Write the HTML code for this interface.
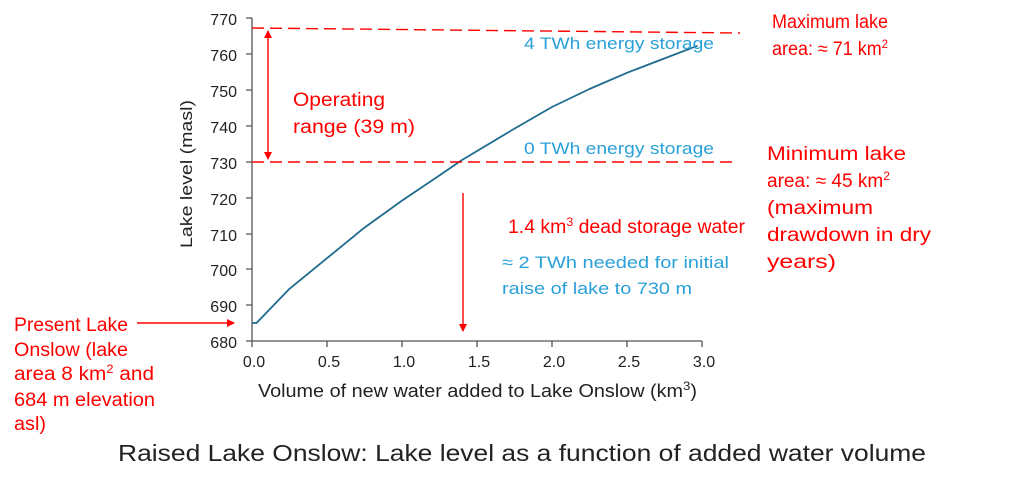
<!DOCTYPE html><html><head><style>body{margin:0;background:#fff}</style></head><body>
<svg width="1024" height="488" viewBox="0 0 1024 488" xmlns="http://www.w3.org/2000/svg" font-family="Liberation Sans, sans-serif">
<defs><marker id="a" markerWidth="8" markerHeight="8" refX="7" refY="4" orient="auto-start-reverse" markerUnits="userSpaceOnUse"><path d="M0,0 L8,4 L0,8 z" fill="#f00"/></marker></defs>
<g stroke="#555" stroke-width="1.3" fill="none">
<path d="M252 18 V341 H702"/>
<path d="M246 18H252M246 54H252M246 90H252M246 126H252M246 162H252M246 198H252M246 234H252M246 269H252M246 305H252M246 341H252"/>
<path d="M252 341V347M327 341V347M402 341V347M477 341V347M552 341V347M627 341V347M702 341V347"/>
</g>
<g font-size="16" fill="#222" text-anchor="end">
<text x="237" y="25">770</text><text x="237" y="61">760</text><text x="237" y="97">750</text><text x="237" y="133">740</text><text x="237" y="169">730</text><text x="237" y="205">720</text><text x="237" y="241">710</text><text x="237" y="276">700</text><text x="237" y="312">690</text><text x="237" y="348">680</text>
</g>
<g font-size="16" fill="#222" text-anchor="middle">
<text x="254" y="367">0.0</text><text x="329" y="367">0.5</text><text x="404" y="367">1.0</text><text x="479" y="367">1.5</text><text x="554" y="367">2.0</text><text x="629" y="367">2.5</text><text x="704" y="367">3.0</text>
</g>
<g fill="#222">
<text x="258" y="397" font-size="18" textLength="439" lengthAdjust="spacingAndGlyphs">Volume of new water added to Lake Onslow (km<tspan dy="-7" font-size="12">3</tspan><tspan dy="7">)</tspan></text>
<text x="-248" y="192" font-size="17" transform="rotate(-90)" textLength="148" lengthAdjust="spacingAndGlyphs">Lake level (masl)</text>
<text x="118" y="461" font-size="23" textLength="808" lengthAdjust="spacingAndGlyphs">Raised Lake Onslow: Lake level as a function of added water volume</text>
</g>
<polyline points="252,323 256.5,323 289.5,288.8 327,258.2 364.5,227.6 402,200.6 439.5,175.4 462,160 514.5,128.6 552,107 589.5,89 627,72.8 664.5,58.4 697.5,45.8" stroke="#1f6b8e" stroke-width="1.8" fill="none" stroke-linejoin="round"/>
<g stroke="#f00" stroke-width="1.4" fill="none">
<path d="M252 28 L740 33" stroke-dasharray="12 6"/>
<path d="M252 162 L735 162" stroke-dasharray="12 6"/>
<path d="M268 31 V159" marker-start="url(#a)" marker-end="url(#a)"/>
<path d="M463 193 V331" marker-end="url(#a)"/>
<path d="M137 323 H234" marker-end="url(#a)"/>
</g>
<g fill="#f00" font-size="19" lengthAdjust="spacingAndGlyphs">
<text x="293" y="106" textLength="92" lengthAdjust="spacingAndGlyphs">Operating</text><text x="293" y="133" textLength="122" lengthAdjust="spacingAndGlyphs">range (39 m)</text>
<text x="772" y="28" textLength="116" lengthAdjust="spacingAndGlyphs">Maximum lake</text><text x="772" y="55" textLength="116" lengthAdjust="spacingAndGlyphs">area: ≈ 71 km<tspan dy="-7" font-size="12">2</tspan></text>
<text x="767" y="160" textLength="139" lengthAdjust="spacingAndGlyphs">Minimum lake</text><text x="767" y="187" textLength="123" lengthAdjust="spacingAndGlyphs">area: ≈ 45 km<tspan dy="-7" font-size="12">2</tspan></text>
<text x="767" y="214" textLength="106" lengthAdjust="spacingAndGlyphs">(maximum</text><text x="767" y="241" textLength="164" lengthAdjust="spacingAndGlyphs">drawdown in dry</text><text x="767" y="268" textLength="69" lengthAdjust="spacingAndGlyphs">years)</text>
<text x="508" y="233" textLength="237" lengthAdjust="spacingAndGlyphs">1.4 km<tspan dy="-7" font-size="12">3</tspan><tspan dy="7"> dead storage water</tspan></text>
<text x="14" y="331" textLength="114" lengthAdjust="spacingAndGlyphs">Present Lake</text><text x="14" y="356" textLength="114" lengthAdjust="spacingAndGlyphs">Onslow (lake</text><text x="14" y="380" textLength="140" lengthAdjust="spacingAndGlyphs">area 8 km<tspan dy="-7" font-size="12">2</tspan><tspan dy="7"> and</tspan></text><text x="14" y="406" textLength="141" lengthAdjust="spacingAndGlyphs">684 m elevation</text><text x="14" y="430" textLength="32" lengthAdjust="spacingAndGlyphs">asl)</text>
</g>
<g fill="#2aa0d8" font-size="17">
<text x="524" y="49" textLength="190" lengthAdjust="spacingAndGlyphs">4 TWh energy storage</text>
<text x="524" y="154" textLength="190" lengthAdjust="spacingAndGlyphs">0 TWh energy storage</text>
<text x="502" y="268" textLength="227" lengthAdjust="spacingAndGlyphs">≈ 2 TWh needed for initial</text>
<text x="502" y="294" textLength="190" lengthAdjust="spacingAndGlyphs">raise of lake to 730 m</text>
</g>
</svg>
</body></html>
